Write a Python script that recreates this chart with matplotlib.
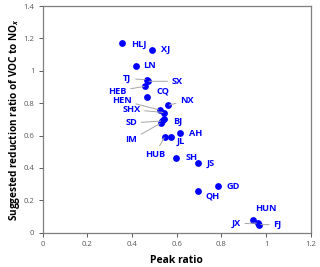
import matplotlib
matplotlib.use('Agg')
import matplotlib.pyplot as plt

plt.rcParams['font.family'] = ['Open Sans', 'DejaVu Sans']
plt.rcParams['mathtext.fontset'] = 'custom'
plt.rcParams['mathtext.rm'] = 'Open Sans:bold'
plt.rcParams['mathtext.it'] = 'Open Sans:bold:italic'

# provinces, peak ratio, suggested VOC/NOx reduction ratio
names = ['HLJ', 'XJ', 'LN', 'TJ', 'SX', 'HEB', 'CQ', 'HEN', 'NX', 'SHX', 'SD', 'BJ',
         'IM', 'HUB', 'JL', 'AH', 'SH', 'JS', 'GD', 'QH', 'HUN', 'JX', 'FJ']
peak_ratio = [0.355, 0.488, 0.416, 0.465, 0.47, 0.46, 0.469, 0.524, 0.561, 0.545, 0.535, 0.545,
              0.53, 0.547, 0.576, 0.613, 0.598, 0.695, 0.784, 0.695, 0.94, 0.963, 0.97]
reduction = [1.171, 1.131, 1.031, 0.945, 0.935, 0.905, 0.837, 0.757, 0.786, 0.742, 0.69, 0.70,
             0.678, 0.594, 0.591, 0.615, 0.463, 0.43, 0.286, 0.257, 0.08, 0.06, 0.05]

# label placement: (dx px, dy px, ha, leader line)
label_pos = {
    'HLJ': (9, -1, 'left', False), 'XJ': (9, 0, 'left', False), 'LN': (8, 0, 'left', False),
    'TJ': (-15, 1, 'right', True), 'SX': (24, 0, 'left', True), 'HEB': (-19, -5, 'right', True),
    'CQ': (9, 6, 'left', False), 'HEN': (-28, 10, 'right', True), 'NX': (12, 5, 'left', True),
    'SHX': (-24, 3, 'right', True), 'SD': (-25, -2, 'right', True), 'BJ': (9, -2, 'left', False),
    'IM': (-24, -17, 'right', True), 'HUB': (0, -18, 'right', True), 'JL': (5, -5, 'left', False),
    'AH': (9, 0, 'left', False), 'SH': (9, 0, 'left', False), 'JS': (9, 0, 'left', False),
    'GD': (9, 0, 'left', False), 'QH': (8, -5, 'left', False), 'HUN': (13, 11, 'center', False),
    'JX': (-17, -1, 'right', True), 'FJ': (14, 0, 'left', True),
}

fig = plt.figure(figsize=(3.2, 2.67), dpi=100)
ax = fig.add_axes([0.1334, 0.1285, 0.971 - 0.1334, 0.9775 - 0.1285])

ax.scatter(peak_ratio, reduction, s=15, color='#0000ff', zorder=3)

for n, x, y in zip(names, peak_ratio, reduction):
    dx, dy, ha, lead = label_pos[n]
    props = None
    if lead:
        props = dict(arrowstyle='-', color='#a6a6a6', lw=0.7, shrinkA=1, shrinkB=1)
    ax.annotate(n, (x, y), xytext=(dx, dy), textcoords='offset pixels',
                ha=ha, va='center', fontsize=6.6, fontweight='bold', color='#0000ff',
                arrowprops=props, zorder=4)

ax.set_xlim(0, 1.2)
ax.set_ylim(0, 1.4)
ax.set_xticks([0, 0.2, 0.4, 0.6, 0.8, 1, 1.2])
ax.set_xticklabels(['0', '0.2', '0.4', '0.6', '0.8', '1', '1.2'])
ax.set_yticks([0, 0.2, 0.4, 0.6, 0.8, 1, 1.2, 1.4])
ax.set_yticklabels(['0', '0.2', '0.4', '0.6', '0.8', '1', '1.2', '1.4'])
ax.tick_params(labelsize=5.6, labelcolor='#595959', color='#595959', length=3, width=0.7, pad=3)

for s in ax.spines.values():
    s.set_color('#7f7f7f')
    s.set_linewidth(0.9)

ax.set_xlabel('Peak ratio', fontsize=7.5, fontweight='bold', labelpad=5)
ax.set_ylabel('Suggested reduction ratio of VOC to NO$_{x}$', fontsize=7.2, fontweight='bold', labelpad=1)

fig.savefig('out.png', dpi=100)
